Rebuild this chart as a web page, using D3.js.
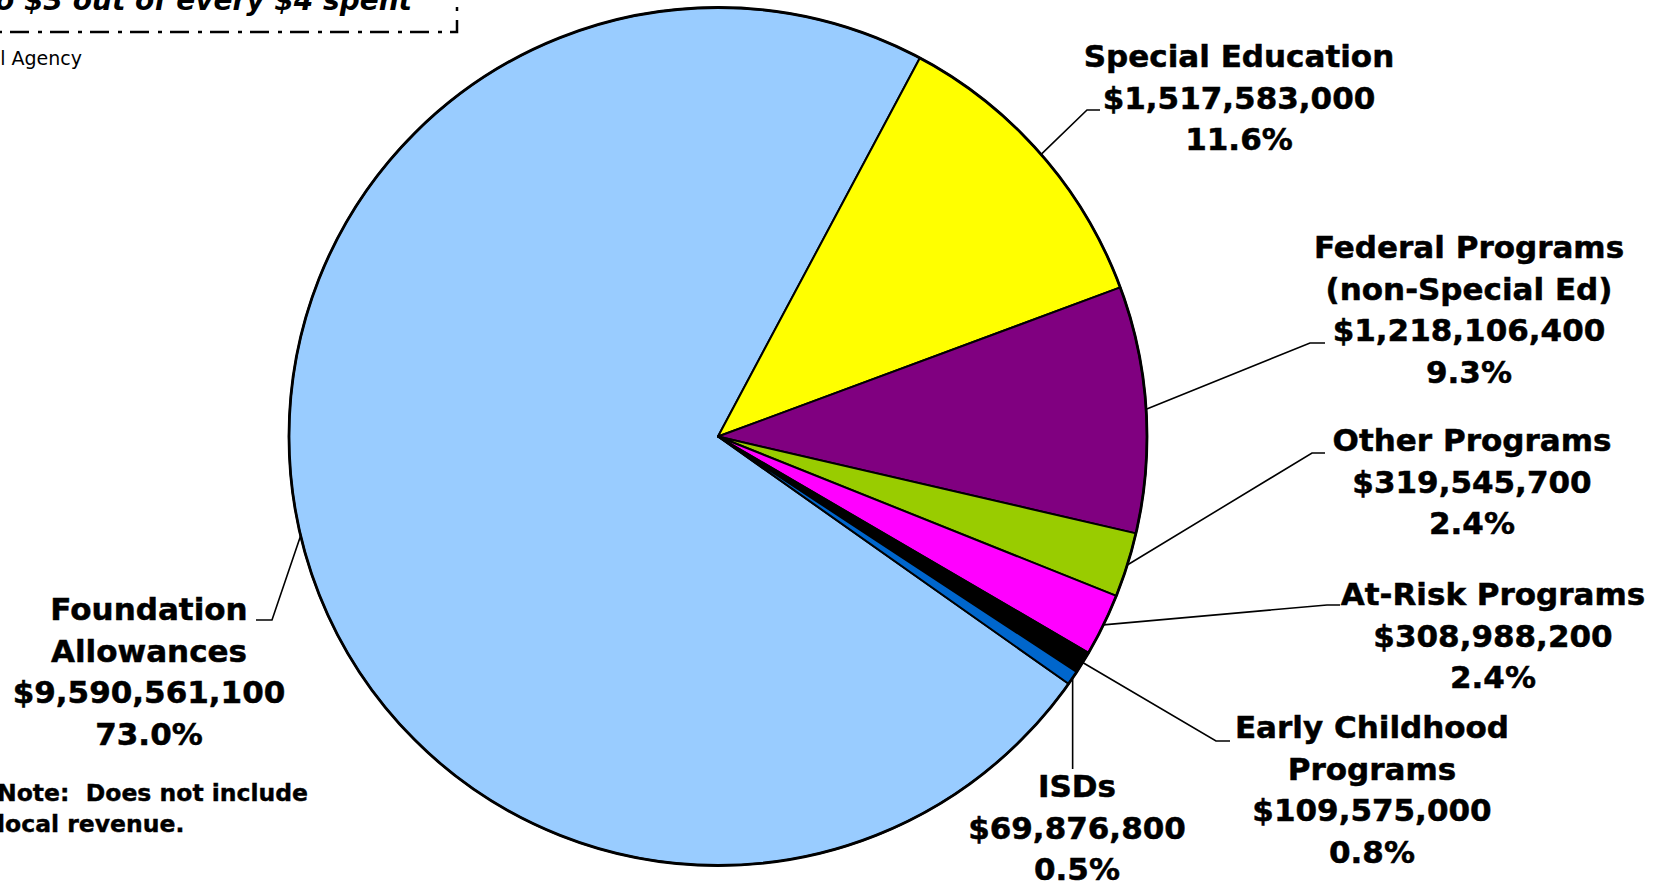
<!DOCTYPE html>
<html>
<head>
<meta charset="utf-8">
<script src="https://cdn.jsdelivr.net/npm/d3@7"></script>
<style>
  body { margin: 0; background: #fff; }
  svg { display: block; }
  text { font-family: "DejaVu Sans", Verdana, sans-serif; fill: #000; white-space: pre; }
</style>
</head>
<body>
<div id="chart"></div>
<script>
// School aid pie chart

// data
var categories = ["Foundation Allowances", "Special Education", "Federal Programs (non-Special Ed)", "Other Programs", "At-Risk Programs", "Early Childhood Programs", "ISDs"]
var nameLines = [["Foundation", "Allowances"], ["Special Education"], ["Federal Programs", "(non-Special Ed)"], ["Other Programs"], ["At-Risk Programs"], ["Early Childhood", "Programs"], ["ISDs"]]
var amounts = [9590561100, 1517583000, 1218106400, 319545700, 308988200, 109575000, 69876800]
var colors = ["#99ccff", "#ffff00", "#800080", "#99cc00", "#ff00ff", "#000000", "#0066cc"]

// set the dimensions of the graph
var width = 1665
var height = 883
var cx = 718, cy = 436.5, radius = 429
var deg = Math.PI / 180

// where each label sits: text centre x, first baseline, leader elbow and end
var layout = [
  { x: 149,  y: 620, elbow: [272, 620], end: [256, 620] },
  { x: 1239, y: 67,  elbow: [1087, 110], end: [1100, 110] },
  { x: 1469, y: 258, elbow: [1310, 343], end: [1325, 343] },
  { x: 1472, y: 451, elbow: [1312, 453], end: [1325, 453] },
  { x: 1493, y: 605, elbow: [1327, 605], end: [1340, 605] },
  { x: 1372, y: 738, elbow: [1216, 741], end: [1230, 741] },
  { x: 1077, y: 797, elbow: null, end: 769 }
]
var lineGap = 41.7

var svg = d3.select("#chart")
  .append("svg")
    .attr("width", width)
    .attr("height", height)

svg.append("rect")
  .attr("width", width)
  .attr("height", height)
  .attr("fill", "#fff")

// title box, mostly cut off at the top
svg.append("path")
  .attr("d", "M457,-20 V32 H-10")
  .attr("fill", "none")
  .attr("stroke", "#000")
  .attr("stroke-width", 2.5)
  .attr("stroke-dasharray", "19,8,4,9")

svg.append("text")
  .attr("x", 412)
  .attr("y", 10)
  .attr("text-anchor", "end")
  .style("font-size", "28px")
  .style("font-weight", "bold")
  .style("font-style", "italic")
  .text("Foundation Allowances: Close to $3 out of every $4 spent")

svg.append("text")
  .attr("x", 82)
  .attr("y", 65)
  .attr("text-anchor", "end")
  .style("font-size", "19px")
  .text("Source: Senate Fiscal Agency")

var total = d3.sum(amounts)
var fmtMoney = d3.format("$,")
var fmtPct = d3.format(".1%")

var start = 125.2 * deg
var pie = d3.pie()
  .sort(null)
  .value(function(d) { return d })
  .startAngle(start)
  .endAngle(start + 2 * Math.PI)

var arcs = pie(amounts)
var arc = d3.arc().innerRadius(0).outerRadius(radius)

var g = svg.append("g")
  .attr("transform", "translate(" + cx + "," + cy + ")")

g.selectAll("path.slice")
  .data(arcs)
  .enter()
  .append("path")
    .attr("class", "slice")
    .attr("d", arc)
    .attr("fill", function(d, i) { return colors[i] })
    .attr("stroke", "#000")
    .attr("stroke-width", 2)
    .attr("stroke-linejoin", "round")

// outline
g.append("circle")
  .attr("r", radius)
  .attr("fill", "none")
  .attr("stroke", "#000")
  .attr("stroke-width", 2.8)

// leader lines from the middle of each slice's rim
arcs.forEach(function(d, i) {
  var a = (d.startAngle + d.endAngle) / 2
  var px = cx + radius * Math.sin(a)
  var py = cy - radius * Math.cos(a)
  var L = layout[i]
  var pts
  if (L.elbow) pts = [[px, py], L.elbow, L.end]
  else pts = [[px, py], [px, L.end]]
  svg.append("path")
    .attr("d", d3.line()(pts))
    .attr("fill", "none")
    .attr("stroke", "#000")
    .attr("stroke-width", 1.6)
})

// labels
categories.forEach(function(c, i) {
  var lines = nameLines[i].concat([fmtMoney(amounts[i]), fmtPct(amounts[i] / total)])
  var t = svg.append("text")
    .attr("text-anchor", "middle")
    .style("font-size", "31px")
    .style("font-weight", "bold")
    .style("stroke", "#000")
    .style("stroke-width", "0.5px")
  t.selectAll("tspan")
    .data(lines)
    .enter()
    .append("tspan")
      .attr("x", layout[i].x)
      .attr("y", function(d, j) { return layout[i].y + j * lineGap })
      .text(function(d) { return d })
})

// note
var note = svg.append("text")
  .style("font-size", "23.5px")
  .style("font-weight", "bold")
  .style("stroke", "#000")
  .style("stroke-width", "0.4px")
note.append("tspan").attr("x", -3).attr("y", 801).text("Note:  Does not include")
note.append("tspan").attr("x", -3).attr("y", 832).text("local revenue.")
</script>
</body>
</html>
